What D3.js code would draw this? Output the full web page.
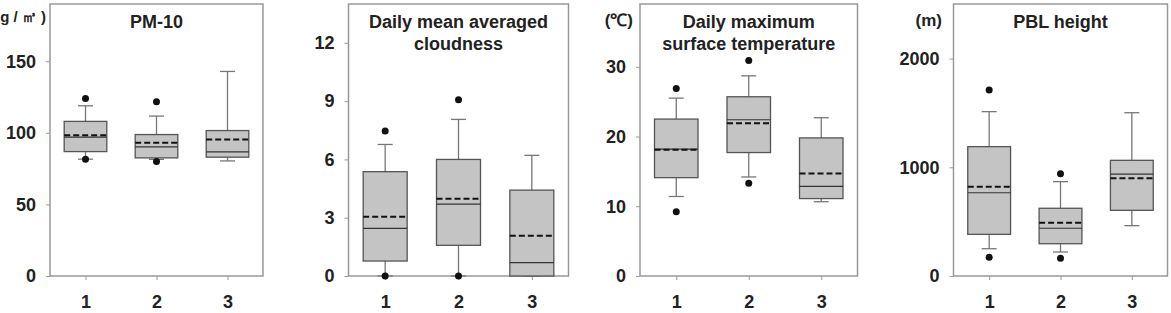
<!DOCTYPE html>
<html>
<head>
<meta charset="utf-8">
<script src="https://cdn.jsdelivr.net/npm/d3@7"></script>
<style>
  body { margin: 0; background: #fff; }
  text { font-family: "Liberation Sans", Arial, sans-serif; font-weight: bold; fill: #222; }
</style>
</head>
<body>
<script>
(function() {

	var width = 1171;
	var height = 313;

	var categories = ['1', '2', '3'];

	// box stats: lo/hi = whisker ends, q1/q3 = box, med = solid line, mean = dashed line
	var pm10Boxes = [
		{ lo: 81.6, q1: 86.9, med: 97.0, q3: 108.0, hi: 118.9, mean: 98.3 },
		{ lo: 81.5, q1: 82.5, med: 90.2, q3: 98.8, hi: 111.7, mean: 93.0 },
		{ lo: 80.4, q1: 83.0, med: 86.7, q3: 101.6, hi: 142.9, mean: 95.3 }
	];
	var pm10Outliers = [[124, 81.6], [121.7, 80], []];
	var pm10Ticks = [0, 50, 100, 150];

	var cloudBoxes = [
		{ lo: 0, q1: 0.77, med: 2.45, q3: 5.37, hi: 6.77, mean: 3.05 },
		{ lo: 0, q1: 1.58, med: 3.70, q3: 6.0, hi: 8.06, mean: 3.98 },
		{ lo: 0, q1: 0, med: 0.69, q3: 4.42, hi: 6.21, mean: 2.07 }
	];
	var cloudOutliers = [[7.46, 0], [9.07, 0], []];
	var cloudTicks = [0, 3, 6, 9, 12];

	var tempBoxes = [
		{ lo: 11.4, q1: 14.1, med: 18.2, q3: 22.5, hi: 25.5, mean: 18.1 },
		{ lo: 14.2, q1: 17.7, med: 22.4, q3: 25.7, hi: 28.7, mean: 21.9 },
		{ lo: 10.65, q1: 11.1, med: 12.85, q3: 19.8, hi: 22.7, mean: 14.7 }
	];
	var tempOutliers = [[26.9, 9.2], [30.9, 13.3], []];
	var tempTicks = [0, 10, 20, 30];

	var pblBoxes = [
		{ lo: 251, q1: 383, med: 766, q3: 1190, hi: 1512, mean: 822 },
		{ lo: 221, q1: 297, med: 439, q3: 623, hi: 868, mean: 490 },
		{ lo: 463, q1: 604, med: 938, q3: 1064, hi: 1502, mean: 899 }
	];
	var pblOutliers = [[1711, 172], [941, 163], []];
	var pblTicks = [0, 1000, 2000];

	var panels = [
		{ left: 50, right: 263, yMax: 190, boxes: pm10Boxes, outliers: pm10Outliers, ticks: pm10Ticks,
		  title: ['PM-10'], unit: '(\u03bcg / \u33a5 )', unitX: 46, unitY: 22, unitSize: 15 },
		{ left: 348.5, right: 568.5, yMax: 14, boxes: cloudBoxes, outliers: cloudOutliers, ticks: cloudTicks,
		  title: ['Daily mean averaged', 'cloudness'] },
		{ left: 640, right: 857.5, yMax: 39, boxes: tempBoxes, outliers: tempOutliers, ticks: tempTicks,
		  title: ['Daily maximum', 'surface temperature'], unit: '(\u2103)', unitX: 633, unitY: 26, unitSize: 17 },
		{ left: 953.5, right: 1167.5, yMax: 2502, boxes: pblBoxes, outliers: pblOutliers, ticks: pblTicks,
		  title: ['PBL height'], unit: '(m)', unitX: 942, unitY: 26, unitSize: 17 }
	];

	var top = 4;
	var bottom = 276;

	var svg = d3.select('body')
		.append('svg')
			.attr('width', width)
			.attr('height', height);

	function drawPanel(p) {

		var g = svg.append('g');

		var x = d3.scalePoint()
			.domain(categories)
			.range([p.left, p.right])
			.padding(0.5);

		var y = d3.scaleLinear()
			.domain([0, p.yMax])
			.range([bottom, top]);

		var boxW = x.step() * 0.6;
		var capW = 15;

		// frame
		g.append('rect')
			.attr('x', p.left)
			.attr('y', top)
			.attr('width', p.right - p.left)
			.attr('height', bottom - top)
			.attr('fill', 'none')
			.attr('stroke', '#999')
			.attr('stroke-width', 1.5);

		// axes
		var yAxis = g.append('g')
			.attr('transform', 'translate(' + p.left + ',0)')
			.call(d3.axisLeft(y).tickValues(p.ticks).tickFormat(d3.format('d')).tickSize(4).tickPadding(10));
		var xAxis = g.append('g')
			.attr('transform', 'translate(0,' + bottom + ')')
			.call(d3.axisBottom(x).tickSize(4).tickPadding(15));

		[yAxis, xAxis].forEach(function(a) {
			a.select('.domain').remove();
			a.selectAll('line').attr('stroke', '#999');
			a.selectAll('text')
				.attr('fill', '#222')
				.style('font-size', '18px')
				.style('font-family', '"Liberation Sans", Arial, sans-serif')
				.style('font-weight', 'bold');
		});

		p.boxes.forEach(function(b, i) {
			var cx = x(categories[i]);

			// whiskers
			g.append('line')
				.attr('x1', cx).attr('x2', cx)
				.attr('y1', y(b.q3)).attr('y2', y(b.hi))
				.attr('stroke', '#777').attr('stroke-width', 1.3);
			g.append('line')
				.attr('x1', cx).attr('x2', cx)
				.attr('y1', y(b.q1)).attr('y2', y(b.lo))
				.attr('stroke', '#777').attr('stroke-width', 1.3);
			[b.hi, b.lo].forEach(function(v) {
				g.append('line')
					.attr('x1', cx - capW / 2).attr('x2', cx + capW / 2)
					.attr('y1', y(v)).attr('y2', y(v))
					.attr('stroke', '#777').attr('stroke-width', 1.3);
			});

			// box
			g.append('rect')
				.attr('x', cx - boxW / 2)
				.attr('y', y(b.q3))
				.attr('width', boxW)
				.attr('height', y(b.q1) - y(b.q3))
				.attr('fill', '#c4c4c4')
				.attr('stroke', '#555')
				.attr('stroke-width', 1.3);

			// median
			g.append('line')
				.attr('x1', cx - boxW / 2).attr('x2', cx + boxW / 2)
				.attr('y1', y(b.med)).attr('y2', y(b.med))
				.attr('stroke', '#333').attr('stroke-width', 1.2);

			// mean
			g.append('line')
				.attr('x1', cx - boxW / 2).attr('x2', cx + boxW / 2)
				.attr('y1', y(b.mean)).attr('y2', y(b.mean))
				.attr('stroke', '#111').attr('stroke-width', 2)
				.attr('stroke-dasharray', '6,3');

			// outliers
			p.outliers[i].forEach(function(v) {
				g.append('circle')
					.attr('cx', cx)
					.attr('cy', y(v))
					.attr('r', 3.5)
					.attr('fill', '#111');
			});
		});

		// title
		var cxMid = (p.left + p.right) / 2;
		p.title.forEach(function(t, k) {
			g.append('text')
				.attr('x', cxMid)
				.attr('y', 28 + k * 22)
				.attr('text-anchor', 'middle')
				.style('font-size', '18px')
				.text(t);
		});

		if (p.unit) {
			g.append('text')
				.attr('x', p.unitX)
				.attr('y', p.unitY)
				.attr('text-anchor', 'end')
				.style('font-size', p.unitSize + 'px')
				.text(p.unit);
		}
	}

	panels.forEach(drawPanel);

})();
</script>
</body>
</html>
